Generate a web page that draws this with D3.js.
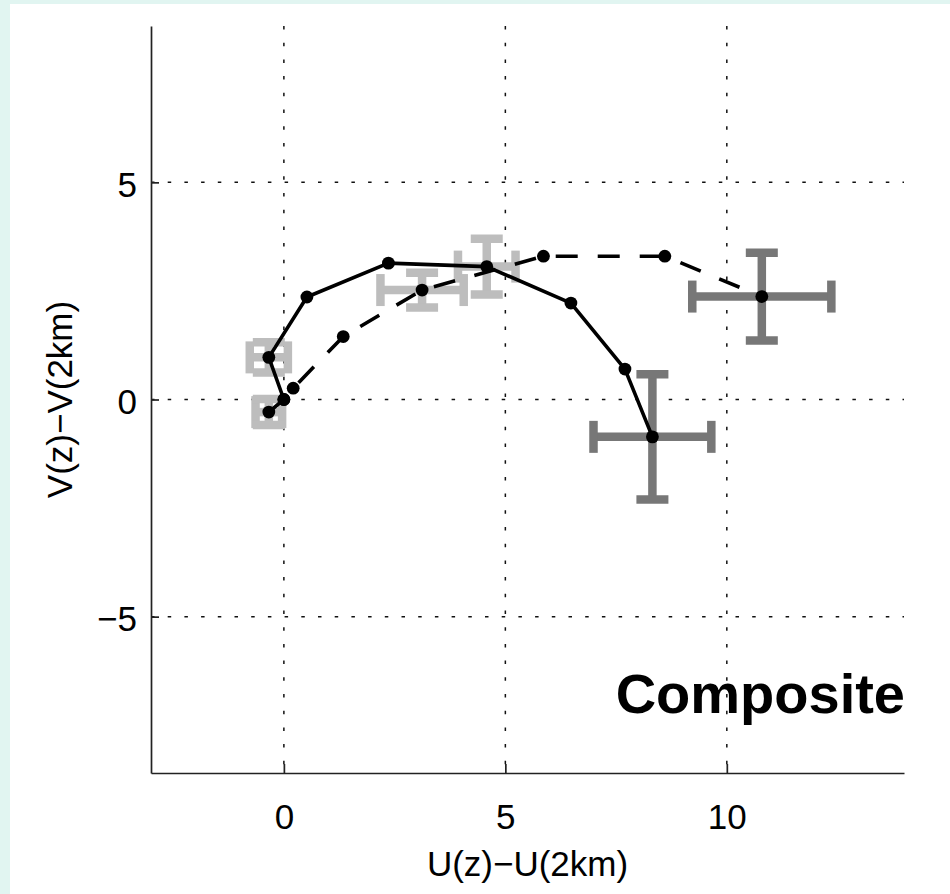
<!DOCTYPE html>
<html>
<head>
<meta charset="utf-8">
<script src="https://cdn.jsdelivr.net/npm/d3@7"></script>
<style>
  html, body { margin: 0; padding: 0; background: #e1f5f1; }
  svg { display: block; }
  text { font-family: "Liberation Sans", Arial, Helvetica, sans-serif; fill: #000; }
</style>
</head>
<body>
<script>
// Hodograph of shear relative to 2 km: two composite profiles
const solidU  = [0, -0.34, 0.52, 2.36, 4.58, 6.48, 7.70, 8.32];
const solidV  = [0, 0.97, 2.36, 3.14, 3.06, 2.22, 0.70, -0.86];
const dashedU = [-0.34, 0, 0.21, 1.34, 3.12, 5.86, 8.60, 10.79];
const dashedV = [-0.29, 0, 0.26, 1.45, 2.52, 3.30, 3.30, 2.37];

// Error bars: profile, point index, half-width in U, half-width in V, shade
const errProfile = ["solid", "solid", "dashed", "dashed", "solid", "dashed"];
const errIndex   = [1, 4, 0, 4, 7, 7];
const errU       = [0.43, 0.65, 0.30, 0.94, 1.33, 1.57];
const errV       = [0.35, 0.64, 0.30, 0.40, 1.44, 1.01];
const errShade   = ["light", "light", "light", "light", "dark", "dark"];

const xTicks = [0, 5, 10];
const yTicks = [-5, 0, 5];
const xTitle = "U(z)\u2212U(2km)";
const yTitle = "V(z)\u2212V(2km)";
const panelTitle = "Composite";

const W = 950, H = 894;
const svg = d3.select("body").append("svg").attr("width", W).attr("height", H);

// white page inside the tinted border
svg.append("rect").attr("x", 10).attr("y", 4).attr("width", W - 10).attr("height", H - 4).attr("fill", "#fff");

const x = d3.scaleLinear().domain([-3, 14]).range([151, 904]);
const y = d3.scaleLinear().domain([-8.6, 8.6]).range([773, 26]);

// dotted grid
const grid = svg.append("g").attr("stroke", "#111").attr("stroke-width", 1.5).attr("stroke-dasharray", "3.5,13.2");
grid.selectAll("line.gx").data(xTicks).join("line")
  .attr("x1", d => x(d)).attr("x2", d => x(d)).attr("y1", y.range()[1]).attr("y2", y.range()[0]);
grid.selectAll("line.gy").data(yTicks).join("line")
  .attr("y1", d => y(d)).attr("y2", d => y(d)).attr("x1", x.range()[0]).attr("x2", x.range()[1]);

// axes with inward ticks
const fmt = d => d < 0 ? "\u2212" + Math.abs(d) : String(d);
const gx = svg.append("g").attr("transform", `translate(0,${y.range()[0]})`)
  .call(d3.axisBottom(x).tickValues(xTicks).tickSizeInner(-9).tickSizeOuter(0).tickPadding(31).tickFormat(fmt));
const gy = svg.append("g").attr("transform", `translate(${x.range()[0]},0)`)
  .call(d3.axisLeft(y).tickValues(yTicks).tickSizeInner(-8).tickSizeOuter(0).tickPadding(14).tickFormat(fmt));
[gx, gy].forEach(g => {
  g.select(".domain").attr("stroke", "#222").attr("stroke-width", 1.7);
  g.selectAll(".tick line").attr("stroke", "#222").attr("stroke-width", 1.7);
  g.selectAll(".tick text").attr("font-size", 35).attr("font-family", "Liberation Sans, Arial, sans-serif").attr("fill", "#000");
});
gy.selectAll(".tick text").attr("dy", "0.4em");

// error bars (crosses with caps)
const profiles = { solid: [solidU, solidV], dashed: [dashedU, dashedV] };
const shades = { light: "#bdbdbd", dark: "#777777" };
const cap = 16;
const eb = svg.append("g").attr("stroke-width", 8.5).attr("fill", "none");
errIndex.forEach((idx, k) => {
  const [U, V] = profiles[errProfile[k]];
  const cx = x(U[idx]), cy = y(V[idx]);
  const xl = x(U[idx] - errU[k]), xr = x(U[idx] + errU[k]);
  const yt = y(V[idx] + errV[k]), yb = y(V[idx] - errV[k]);
  const g = eb.append("g").attr("stroke", shades[errShade[k]]);
  const seg = (a, b, c, d) => g.append("line").attr("x1", a).attr("y1", b).attr("x2", c).attr("y2", d);
  seg(xl, cy, xr, cy);
  seg(cx, yt, cx, yb);
  seg(xl, cy - cap, xl, cy + cap);
  seg(xr, cy - cap, xr, cy + cap);
  seg(cx - cap, yt, cx + cap, yt);
  seg(cx - cap, yb, cx + cap, yb);
});

// profile lines and markers
const line = d3.line().x(d => x(d[0])).y(d => y(d[1]));
const solidPts = solidU.map((u, i) => [u, solidV[i]]);
const dashedPts = dashedU.map((u, i) => [u, dashedV[i]]);
svg.append("path").datum(dashedPts).attr("d", line)
  .attr("fill", "none").attr("stroke", "#000").attr("stroke-width", 3.6).attr("stroke-dasharray", "22,20");
svg.append("path").datum(solidPts).attr("d", line)
  .attr("fill", "none").attr("stroke", "#000").attr("stroke-width", 3.6).attr("stroke-linejoin", "round");
svg.append("g").selectAll("circle").data(solidPts.concat(dashedPts)).join("circle")
  .attr("cx", d => x(d[0])).attr("cy", d => y(d[1])).attr("r", 6.4).attr("fill", "#000");

// titles
svg.append("text").attr("x", (x.range()[0] + x.range()[1]) / 2).attr("y", 876)
  .attr("text-anchor", "middle").attr("font-size", 35).text(xTitle);
svg.append("text").attr("transform", `translate(72,${(y.range()[0] + y.range()[1]) / 2}) rotate(-90)`)
  .attr("text-anchor", "middle").attr("font-size", 35).text(yTitle);
svg.append("text").attr("x", 905).attr("y", 713).attr("text-anchor", "end")
  .attr("font-size", 56).attr("font-weight", "bold").text(panelTitle);
</script>
</body>
</html>
